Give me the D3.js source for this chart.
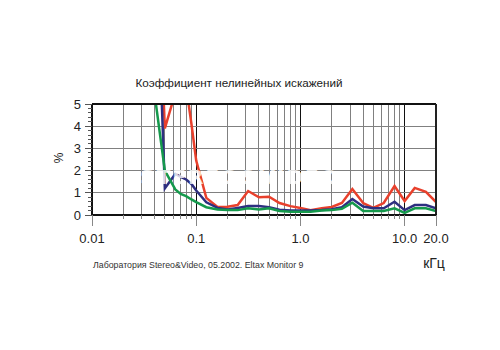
<!DOCTYPE html>
<html><head><meta charset="utf-8">
<script src="https://cdn.jsdelivr.net/npm/d3@7"></script>
<style>body{margin:0;background:#fff}</style></head>
<body><svg id="c" width="500" height="350"></svg>
<script>
// ---- data ----
const freqs      = [0.04, 0.05, 0.063, 0.071, 0.08, 0.09, 0.1, 0.125, 0.16, 0.2, 0.25, 0.315, 0.4, 0.5, 0.63, 0.8, 1.0, 1.25, 1.6, 2.0, 2.5, 3.15, 4.0, 5.0, 6.3, 8.0, 10.0, 12.5, 16.0, 20.0];
const redVals    = [15, 3.9, 5.5, 6.0, 5.8, 4.1, 2.45, 0.77, 0.36, 0.37, 0.45, 1.08, 0.8, 0.82, 0.54, 0.4, 0.32, 0.22, 0.3, 0.36, 0.54, 1.17, 0.54, 0.32, 0.54, 1.3, 0.63, 1.22, 1.04, 0.58];
const blueVals   = [14, 1.2, 1.85, 1.72, 1.6, 1.4, 1.1, 0.57, 0.32, 0.25, 0.32, 0.4, 0.4, 0.35, 0.24, 0.2, 0.2, 0.2, 0.22, 0.26, 0.35, 0.72, 0.38, 0.3, 0.3, 0.6, 0.22, 0.45, 0.45, 0.3];
const greenVals  = [5.4, 2.0, 1.15, 0.95, 0.85, 0.7, 0.58, 0.35, 0.25, 0.22, 0.22, 0.3, 0.25, 0.3, 0.18, 0.15, 0.15, 0.15, 0.2, 0.22, 0.28, 0.55, 0.18, 0.18, 0.18, 0.3, 0.1, 0.3, 0.3, 0.18];
const seriesColors = ["#e8402c", "#2e2f80", "#15994c"];
const xTickValues = [0.01, 0.1, 1, 10, 20];
const xTickLabels = ["0.01", "0.1", "1.0", "10.0", "20.0"];
const yTickValues = [0, 1, 2, 3, 4, 5];
const titleText  = "Коэффициент нелинейных искажений";
const yLabel     = "%";
const xUnit      = "кГц";
const footerText = "Лаборатория Stereo&Video, 05.2002.  Eltax Monitor 9";

// ---- layout ----
const L = 92, R = 436, T = 104, B = 215;
const svg = d3.select("#c");
const x = d3.scaleLog().domain([0.01, 20]).range([L, R]);
const y = d3.scaleLinear().domain([0, 5]).range([B, T]);
const font = "Liberation Sans, Arial, sans-serif";

// gridlines
const grid = svg.append("g").attr("shape-rendering", "crispEdges");
const allTicks = x.ticks().filter(v => v > 0.0100001 && v < 19.999);
allTicks.forEach(v => {
  const isDec = Math.abs(Math.log10(v) - Math.round(Math.log10(v))) < 1e-6;
  grid.append("line").attr("x1", x(v)).attr("x2", x(v)).attr("y1", T).attr("y2", B)
    .attr("stroke", isDec ? "#111" : "#808080").attr("stroke-width", 1);
});
[1, 2, 3, 4].forEach(v => {
  grid.append("line").attr("x1", L).attr("x2", R).attr("y1", y(v)).attr("y2", y(v))
    .attr("stroke", "#808080").attr("stroke-width", 1);
});

// series lines
svg.append("clipPath").attr("id", "clip").append("rect")
  .attr("x", L).attr("y", T).attr("width", R - L).attr("height", B - T);
const line = d3.line().x(d => x(d[0])).y(d => y(d[1]));
const lines = svg.append("g").attr("clip-path", "url(#clip)");
[redVals, blueVals, greenVals].forEach((vals, i) => {
  lines.append("path").datum(freqs.map((f, j) => [f, vals[j]]))
    .attr("d", line).attr("fill", "none").attr("stroke", seriesColors[i])
    .attr("stroke-width", 2.5).attr("stroke-linejoin", "miter");
});

// watermark (white)
svg.append("text").attr("x", 240).attr("y", 184).attr("text-anchor", "middle")
  .attr("font-family", "DejaVu Sans, sans-serif").attr("font-weight", "bold")
  .attr("font-size", 20).attr("fill", "#fff").attr("opacity", 0.8)
  .attr("letter-spacing", 2).text("STEREO&VIDEO");

// frame
const frame = svg.append("g").attr("shape-rendering", "crispEdges");
frame.append("line").attr("x1", L).attr("x2", R).attr("y1", T).attr("y2", T).attr("stroke", "#111").attr("stroke-width", 1.5);
frame.append("line").attr("x1", L).attr("x2", L).attr("y1", T).attr("y2", B).attr("stroke", "#111").attr("stroke-width", 1.5);
frame.append("line").attr("x1", R).attr("x2", R).attr("y1", T).attr("y2", B + 1).attr("stroke", "#222").attr("stroke-width", 2.5);
frame.append("line").attr("x1", L).attr("x2", R + 1).attr("y1", B).attr("y2", B).attr("stroke", "#111").attr("stroke-width", 2);

// y axis ticks
const yAxis = svg.append("g").attr("shape-rendering", "crispEdges");
d3.range(0, 5.001, 0.2).forEach(v => {
  const major = Math.abs(v - Math.round(v)) < 1e-6;
  yAxis.append("line").attr("x1", major ? 85 : 88).attr("x2", L).attr("y1", y(v)).attr("y2", y(v))
    .attr("stroke", "#555").attr("stroke-width", 1);
});
yTickValues.forEach(v => {
  svg.append("text").attr("x", 81).attr("y", y(v) + 4.5).attr("text-anchor", "end")
    .attr("font-family", font).attr("font-size", 13).attr("fill", "#222").text(v);
});

// x axis ticks
const xAxis = svg.append("g").attr("shape-rendering", "crispEdges");
x.ticks().forEach(v => {
  const isDec = Math.abs(Math.log10(v) - Math.round(Math.log10(v))) < 1e-6 || Math.abs(v - 20) < 1e-6;
  xAxis.append("line").attr("x1", x(v)).attr("x2", x(v)).attr("y1", B).attr("y2", isDec ? 226 : 219)
    .attr("stroke", "#888").attr("stroke-width", 1);
});
xTickValues.forEach((v, i) => {
  svg.append("text").attr("x", x(v)).attr("y", 243).attr("text-anchor", "middle")
    .attr("font-family", font).attr("font-size", 13).attr("fill", "#222").text(xTickLabels[i]);
});

// texts
svg.append("text").attr("x", 239).attr("y", 87).attr("text-anchor", "middle")
  .attr("font-family", font).attr("font-size", 11.7).attr("fill", "#222").text(titleText);
svg.append("text").attr("transform", "translate(63,158) rotate(-90)").attr("text-anchor", "middle")
  .attr("font-family", font).attr("font-size", 12).attr("fill", "#222").text(yLabel);
svg.append("text").attr("x", 434).attr("y", 268).attr("text-anchor", "middle")
  .attr("font-family", font).attr("font-size", 14).attr("fill", "#222").text(xUnit);
svg.append("text").attr("x", 93).attr("y", 268)
  .attr("font-family", font).attr("font-size", 8.8).attr("fill", "#333").text(footerText);
</script></body></html>
